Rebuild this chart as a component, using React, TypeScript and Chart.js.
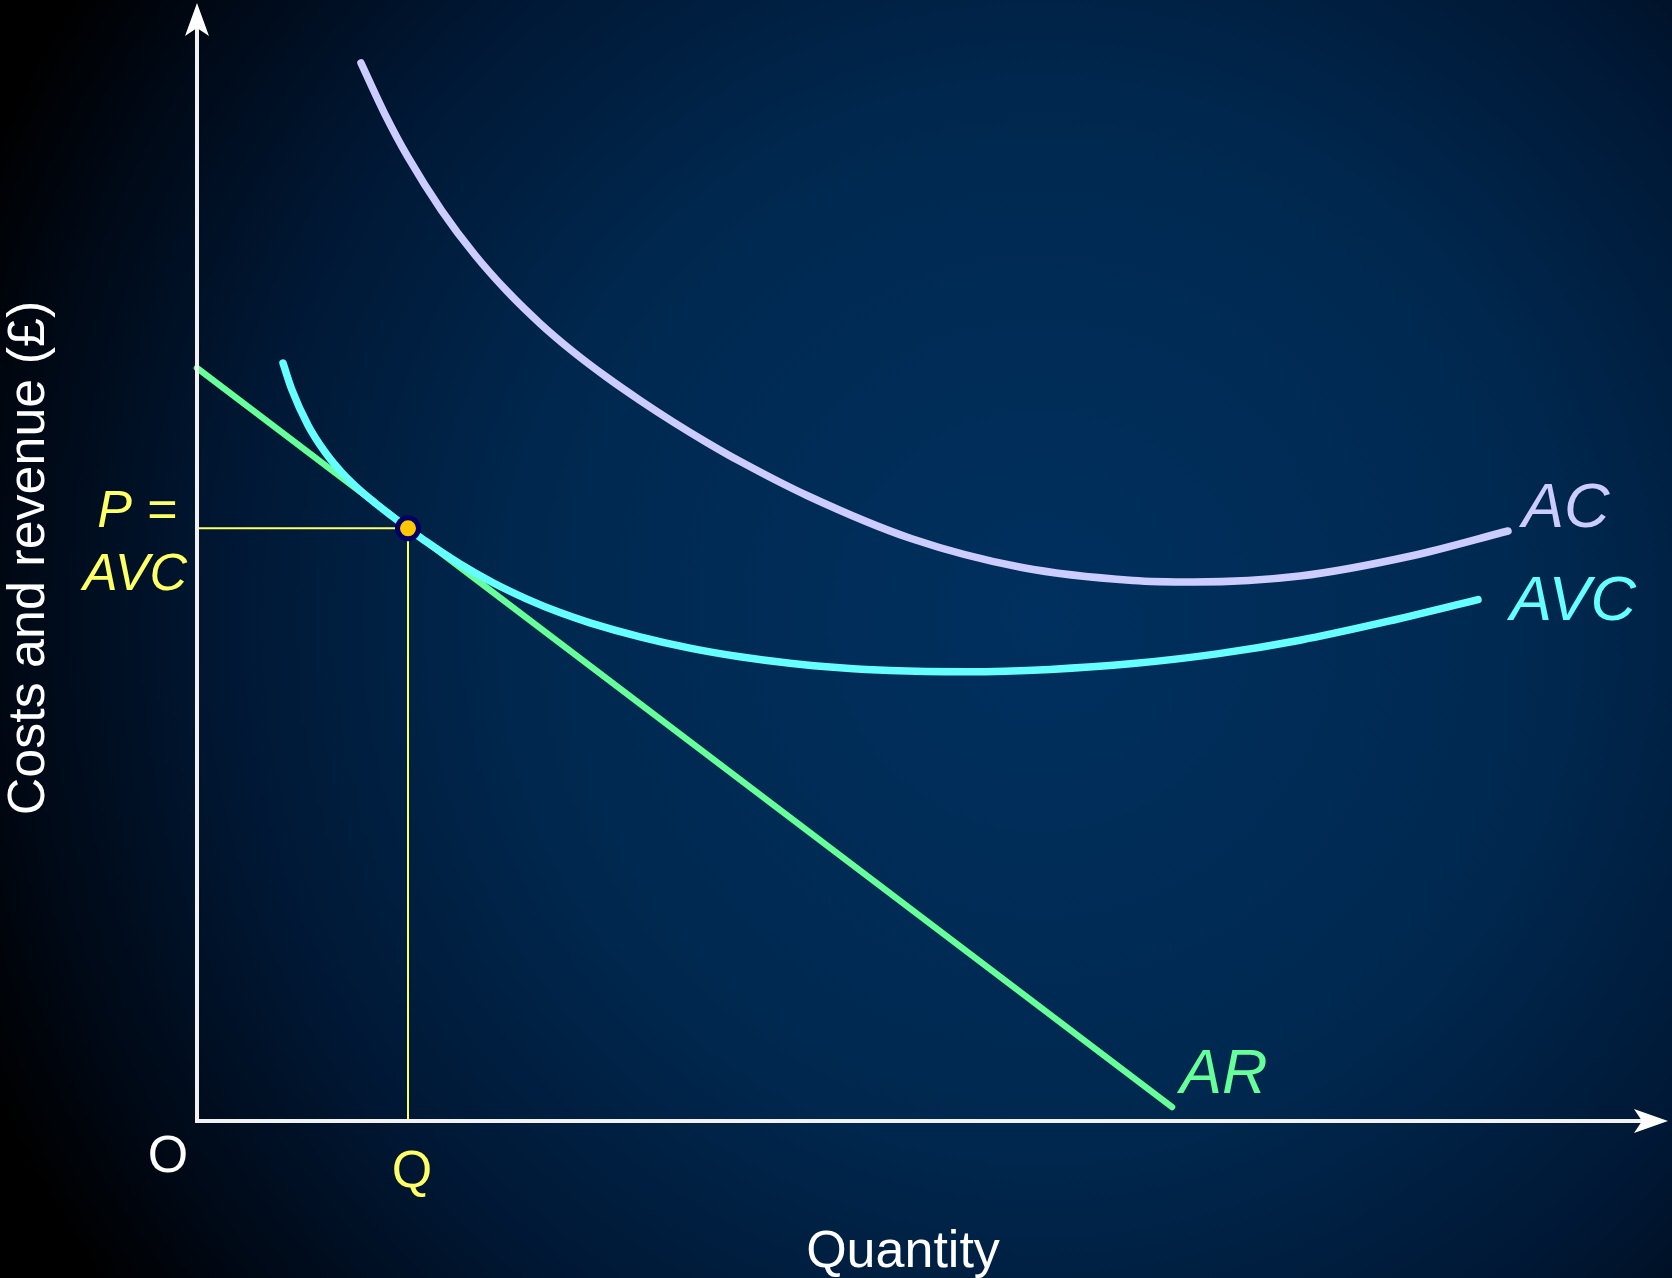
import React, { useEffect, useRef } from "react";
import { Chart, registerables } from "chart.js";

Chart.register(...registerables);

// ---- Data (quantity units on x, £ on y) ----
const acQuantity = [16.4, 18.75, 21.1, 24.45, 27.8, 31.05, 34.3, 37.6, 41.0, 44.3, 47.6, 50.9, 54.3, 61.0, 71.4, 82.5, 93.6, 99.7, 110.3, 121.4, 131.1];
const acCost = [105.8, 100.77, 96.38, 91.07, 86.6, 82.93, 79.76, 76.94, 74.36, 72.07, 69.92, 67.91, 65.97, 62.55, 58.25, 55.35, 54.05, 53.9, 54.5, 56.5, 59.0];

const avcQuantity = [8.6, 9.5, 11.1, 12.8, 14.5, 16.1, 17.8, 19.5, 21.1, 23.0, 26.3, 29.6, 33.0, 36.3, 39.3, 44.3, 49.3, 54.3, 59.3, 64.3, 69.3, 77.0, 85.3, 93.6, 102.0, 110.3, 118.6, 128.1];
const avcCost = [75.8, 73.1, 69.58, 66.9, 64.82, 63.25, 61.82, 60.49, 59.27, 57.88, 55.7, 53.82, 52.19, 50.84, 49.82, 48.42, 47.29, 46.42, 45.77, 45.32, 45.04, 44.92, 45.16, 45.74, 46.71, 48.08, 49.86, 52.14];

const arQuantity = [0, 97.5];
const arRevenue = [75.3, 1.4];

const eqQuantity = [21.1];
const eqPrice = [59.27];

const xMax = 147;
const yMax = 112;

const xAxisTitle = "Quantity";
const yAxisTitle = "Costs and revenue (£)";

const toXY = (xs: number[], ys: number[]) => xs.map((x, i) => ({ x, y: ys[i] }));

const FONT = "'Liberation Sans', Arial, sans-serif";

const backgroundPlugin = {
  id: "bg",
  beforeDraw(chart: any) {
    const { ctx, width, height } = chart;
    ctx.save();
    const g = ctx.createRadialGradient(1040, 620, 0, 1040, 620, 1150);
    g.addColorStop(0, "#00305f");
    g.addColorStop(0.45, "#00284f");
    g.addColorStop(0.7, "#001835");
    g.addColorStop(0.9, "#000814");
    g.addColorStop(1, "#000000");
    ctx.fillStyle = g;
    ctx.fillRect(0, 0, width, height);
    ctx.restore();
  },
};

const overlayPlugin = {
  id: "overlay",
  afterDatasetsDraw(chart: any) {
    const { ctx, chartArea } = chart;
    const xs = chart.scales.x;
    const ys = chart.scales.y;
    const x0 = xs.getPixelForValue(0);
    const y0 = ys.getPixelForValue(0);
    const topTip = chartArea.top + 2;
    const rightTip = chartArea.right + 1;

    ctx.save();
    // axes
    ctx.strokeStyle = "#f2f2f2";
    ctx.fillStyle = "#ffffff";
    ctx.lineWidth = 4;
    ctx.lineCap = "butt";
    ctx.beginPath();
    ctx.moveTo(x0, y0 + 2);
    ctx.lineTo(x0, topTip + 20);
    ctx.moveTo(x0 - 2, y0);
    ctx.lineTo(rightTip - 20, y0);
    ctx.stroke();

    // y arrowhead
    ctx.beginPath();
    ctx.moveTo(x0, topTip);
    ctx.lineTo(x0 - 12, topTip + 33);
    ctx.lineTo(x0, topTip + 25);
    ctx.lineTo(x0 + 12, topTip + 33);
    ctx.closePath();
    ctx.fill();

    // x arrowhead
    ctx.beginPath();
    ctx.moveTo(rightTip, y0);
    ctx.lineTo(rightTip - 34, y0 - 12);
    ctx.lineTo(rightTip - 26, y0);
    ctx.lineTo(rightTip - 34, y0 + 12);
    ctx.closePath();
    ctx.fill();

    // labels
    const eqX = xs.getPixelForValue(eqQuantity[0]);
    ctx.textBaseline = "alphabetic";

    ctx.fillStyle = "#ffffff";
    ctx.font = `52px ${FONT}`;
    ctx.textAlign = "center";
    ctx.fillText("O", x0 - 29, y0 + 51);
    ctx.fillText(xAxisTitle, 903, y0 + 146);

    ctx.save();
    ctx.translate(44, 558);
    ctx.rotate(-Math.PI / 2);
    ctx.textAlign = "center";
    ctx.font = `52px ${FONT}`;
    ctx.fillText(yAxisTitle, 0, 0);
    ctx.restore();

    ctx.fillStyle = "#ffff66";
    ctx.font = `52px ${FONT}`;
    ctx.textAlign = "center";
    ctx.fillText("Q", eqX + 4, y0 + 66);
    ctx.font = `italic 52px ${FONT}`;
    ctx.fillText("P =", 137, 527);
    ctx.fillText("AVC", 135, 590);

    ctx.textAlign = "left";
    ctx.font = `italic 63px ${FONT}`;
    ctx.fillStyle = "#ccccff";
    ctx.fillText("AC", 1522, 527);
    ctx.fillStyle = "#66ffff";
    ctx.fillText("AVC", 1510, 620);
    ctx.fillStyle = "#66ff99";
    ctx.fillText("AR", 1180, 1093);

    ctx.restore();
  },
};

export default function App() {
  const canvasRef = useRef<HTMLCanvasElement | null>(null);

  useEffect(() => {
    document.body.style.margin = "0";
    document.body.style.overflow = "hidden";
    const canvas = canvasRef.current;
    if (!canvas) return;

    const lineBase = {
      type: "line" as const,
      showLine: true,
      pointRadius: 0,
      pointHoverRadius: 0,
      fill: false,
      borderCapStyle: "round" as const,
      borderJoinStyle: "round" as const,
      clip: false as const,
    };

    const chart = new Chart(canvas, {
      type: "scatter",
      data: {
        datasets: [
          {
            label: "Equilibrium",
            data: toXY(eqQuantity, eqPrice),
            pointRadius: 10.5,
            pointBorderWidth: 5,
            pointBackgroundColor: "#ffc800",
            pointBorderColor: "#000066",
            order: 0,
            clip: false,
          } as any,
          {
            ...lineBase,
            label: "AVC",
            data: toXY(avcQuantity, avcCost),
            borderColor: "#66ffff",
            borderWidth: 7.5,
            cubicInterpolationMode: "monotone",
            order: 1,
          },
          {
            ...lineBase,
            label: "AR",
            data: toXY(arQuantity, arRevenue),
            borderColor: "#66ff99",
            borderWidth: 6.5,
            tension: 0,
            order: 2,
          },
          {
            ...lineBase,
            label: "AC",
            data: toXY(acQuantity, acCost),
            borderColor: "#ccccff",
            borderWidth: 7.5,
            cubicInterpolationMode: "monotone",
            order: 3,
          },
          {
            ...lineBase,
            label: "P guide",
            data: [
              { x: 0, y: eqPrice[0] },
              { x: eqQuantity[0], y: eqPrice[0] },
            ],
            borderColor: "#ffff66",
            borderWidth: 2,
            borderCapStyle: "butt",
            order: 4,
          },
          {
            ...lineBase,
            label: "Q guide",
            data: [
              { x: eqQuantity[0], y: 0 },
              { x: eqQuantity[0], y: eqPrice[0] },
            ],
            borderColor: "#ffff66",
            borderWidth: 2,
            borderCapStyle: "butt",
            order: 4,
          },
        ] as any,
      },
      options: {
        responsive: false,
        animation: false,
        events: [],
        layout: { autoPadding: false, padding: { left: 197, right: 5, top: 1, bottom: 157 } },
        plugins: {
          legend: { display: false },
          tooltip: { enabled: false },
          title: { display: false },
        },
        scales: {
          x: { type: "linear", min: 0, max: xMax, display: false },
          y: { type: "linear", min: 0, max: yMax, display: false },
        },
      } as any,
      plugins: [backgroundPlugin, overlayPlugin],
    });

    return () => chart.destroy();
  }, []);

  return (
    <div style={{ width: 1672, height: 1278, margin: 0, padding: 0 }}>
      <canvas ref={canvasRef} width={1672} height={1278} style={{ display: "block", width: 1672, height: 1278 }} />
    </div>
  );
}
